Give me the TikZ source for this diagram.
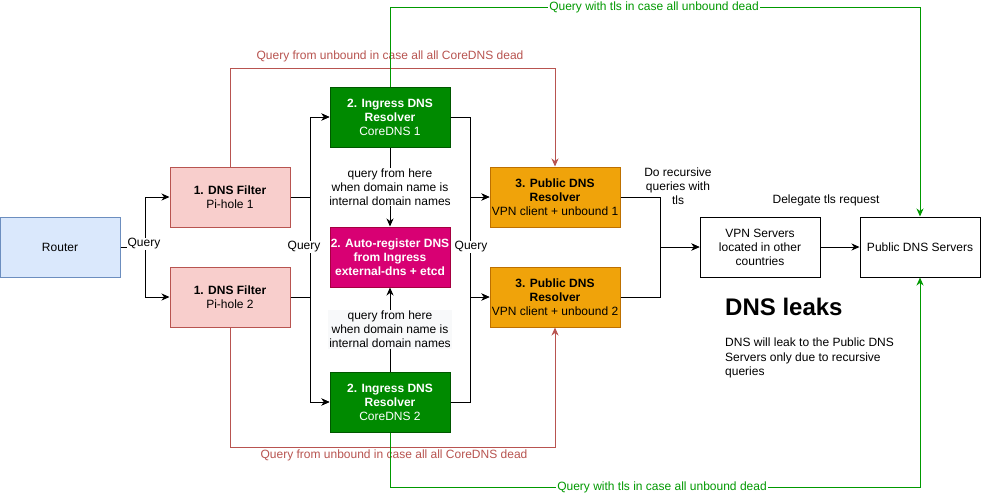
\documentclass[tikz,border=0pt]{standalone}
\usepackage{fontspec}
\setmainfont{Liberation Sans}
\usetikzlibrary{arrows.meta}
\definecolor{routerfill}{HTML}{DAE8FC}
\definecolor{routerdraw}{HTML}{6C8EBF}
\definecolor{pinkfill}{HTML}{F8CECC}
\definecolor{pinkdraw}{HTML}{B85450}
\definecolor{greenfill}{HTML}{008A00}
\definecolor{greendraw}{HTML}{005700}
\definecolor{magfill}{HTML}{D80073}
\definecolor{magdraw}{HTML}{A50040}
\definecolor{orfill}{HTML}{F0A30A}
\definecolor{ordraw}{HTML}{BD7000}
\definecolor{redline}{HTML}{B85450}
\definecolor{greenline}{HTML}{009900}
\definecolor{lblbg}{HTML}{F8F9FA}
\tikzset{
  box/.style={draw, line width=1pt, minimum width=120pt, minimum height=60pt, inner sep=0pt, align=center, font=\fontsize{12}{14}\selectfont},
  arr/.style={line width=1pt, -{Stealth[length=8pt,width=7pt,inset=2.5pt]}},
  conn/.style={line width=1pt},
  lbl/.style={font=\fontsize{12}{14}\selectfont, align=center, inner sep=1pt},
}
\begin{document}
\begin{tikzpicture}[x=1pt,y=-1pt]
\useasboundingbox[fill=white] (0,0) rectangle (981,496);
% nodes
\node[box, fill=routerfill, draw=routerdraw] (router) at (60,247) {Router};
\node[box, fill=pinkfill, draw=pinkdraw] (pi1) at (230,197) {\textbf{1. DNS Filter}\\Pi-hole 1};
\node[box, fill=pinkfill, draw=pinkdraw] (pi2) at (230,297) {\textbf{1. DNS Filter}\\Pi-hole 2};
\node[box, fill=greenfill, draw=greendraw, text=white] (core1) at (390,117) {\textbf{2. Ingress DNS}\\\textbf{Resolver}\\CoreDNS 1};
\node[box, fill=magfill, draw=magdraw, text=white] (auto) at (390,257) {\textbf{2. Auto-register DNS}\\\textbf{from Ingress}\\\textbf{external-dns + etcd}};
\node[box, fill=greenfill, draw=greendraw, text=white] (core2) at (390,402) {\textbf{2. Ingress DNS}\\\textbf{Resolver}\\CoreDNS 2};
\node[box, minimum width=130pt, fill=orfill, draw=ordraw] (pub1) at (555,197) {\textbf{3. Public DNS}\\\textbf{Resolver}\\VPN client + unbound 1};
\node[box, minimum width=130pt, fill=orfill, draw=ordraw] (pub2) at (555,297) {\textbf{3. Public DNS}\\\textbf{Resolver}\\VPN client + unbound 2};
\node[box, draw=black] (vpn) at (760,247) {VPN Servers\\located in other\\countries};
\node[box, draw=black] (pds) at (920,247) {Public DNS Servers};
% router to pi-holes
\draw[arr] (router.east) -- (145,247) |- (pi1.west);
\draw[arr] (router.east) -- (145,247) |- (pi2.west);
\node[lbl, fill=white] (q0) at (144,244) {Query};
% pi-holes to coredns
\draw[arr] (pi1.east) -- (310,197) |- (core1.west);
\draw[arr] (pi1.east) -- (310,197) |- (core2.west);
\draw[arr] (pi2.east) -- (310,297) |- (core1.west);
\draw[arr] (pi2.east) -- (310,297) |- (core2.west);
\node[lbl, fill=white] (q1) at (304,247) {Query};
% coredns to public resolvers
\draw[arr] (core1.east) -- (470,117) |- (pub1.west);
\draw[arr] (core1.east) -- (470,117) |- (pub2.west);
\draw[arr] (core2.east) -- (470,402) |- (pub1.west);
\draw[arr] (core2.east) -- (470,402) |- (pub2.west);
\node[lbl, fill=white] (q2) at (471,247) {Query};
% coredns to auto-register
\draw[arr] (core1.south) -- (auto.north) node[lbl, midway, fill=white] {query from here\\when domain name is\\internal domain names};
\draw[arr] (core2.north) -- (auto.south) node[lbl, midway, fill=lblbg] {query from here\\when domain name is\\internal domain names};
% red fallbacks
\draw[arr, redline] (pi1.north) -- (230,68) -| (pub1.north);
\node[lbl, text=redline] (rl1) at (390,56) {Query from unbound in case all all CoreDNS dead};
\draw[arr, redline] (pi2.south) -- (230,447) -| (pub2.south);
\node[lbl, text=redline] (rl2) at (394,455) {Query from unbound in case all all CoreDNS dead};
% green fallbacks
\draw[arr, greenline] (core1.north) -- (390,7) -| (pds.north);
\node[lbl, fill=white, text=greenline] (gl1) at (654,7) {Query with tls in case all unbound dead};
\draw[arr, greenline] (core2.south) -- (390,487) -| (pds.south);
\node[lbl, fill=white, text=greenline] (gl2) at (662,487) {Query with tls in case all unbound dead};
% public resolvers to vpn
\draw[arr] (pub1.east) -- (660,197) |- (vpn.west);
\draw[arr] (pub2.east) -- (660,297) |- (vpn.west);
\node[lbl] (rec) at (678,186) {Do recursive\\queries with\\tls};
\draw[arr] (vpn.east) -- (pds.west);
\node[lbl] (del) at (826,200) {Delegate tls request};
% text
\node[anchor=west, inner sep=0pt, font=\fontsize{24}{28}\selectfont\bfseries] (leaks) at (725,307) {DNS leaks};
\node[anchor=north west, inner sep=0pt, align=left, font=\fontsize{12}{14.5}\selectfont] (leaktxt) at (725,338) {DNS will leak to the Public DNS\\Servers only due to recursive\\queries};
\end{tikzpicture}
\end{document}
